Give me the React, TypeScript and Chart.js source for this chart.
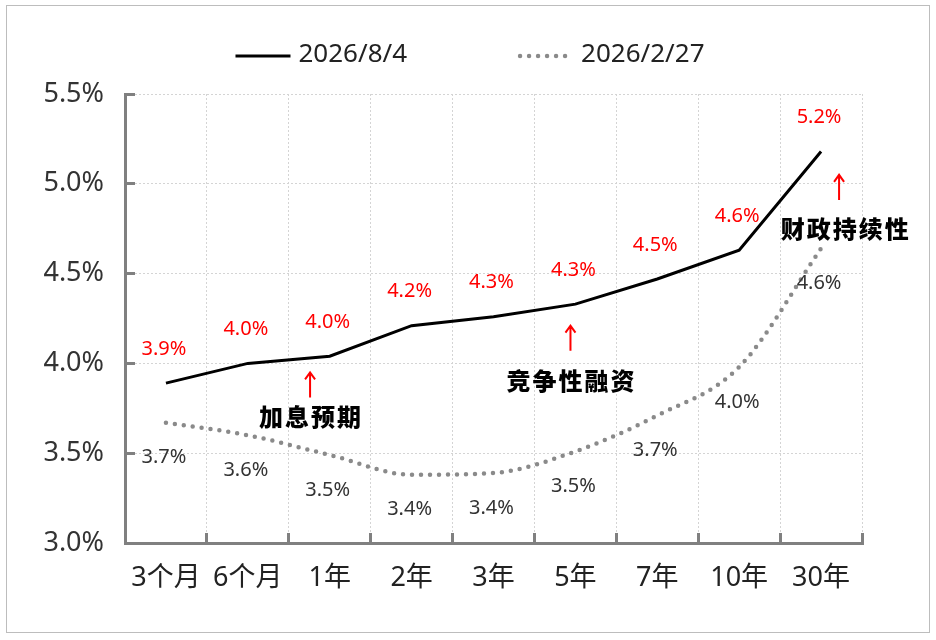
import { useEffect, useRef } from 'react';
import { Chart, ChartConfiguration, Plugin, registerables } from 'chart.js';

Chart.register(...registerables);

// tenors on the x axis
const tenors = ['3个月', '6个月', '1年', '2年', '3年', '5年', '7年', '10年', '30年'];
const seriesNames = ['2026/8/4', '2026/2/27'];
// yields in %
const yieldsAug = [3.89, 4.0, 4.04, 4.21, 4.26, 4.33, 4.47, 4.63, 5.18];
const yieldsFeb = [3.67, 3.6, 3.49, 3.38, 3.39, 3.51, 3.71, 3.98, 4.64];
const yTicks = [3.0, 3.5, 4.0, 4.5, 5.0, 5.5];

// annotations (x in category units, y in %)
const notes = ['加息预期', '竞争性融资', '财政持续性'];
const noteArrowX = [1.76, 4.94, 8.22];
const noteArrowTop = [3.95, 4.21, 5.05];
const noteArrowBottom = [3.81, 4.07, 4.91];
const noteTextX = [1.76, 4.94, 8.29];
const noteTextY = [3.7, 3.9, 4.75];

const valueLabels: Plugin<'line'> = {
  id: 'valueLabels',
  afterDatasetsDraw(chart) {
    const ctx = chart.ctx;
    ctx.save();
    ctx.font = '20px "Noto Sans"';
    ctx.textAlign = 'center';
    ctx.textBaseline = 'middle';
    chart.data.datasets.forEach((ds, i) => {
      const meta = chart.getDatasetMeta(i);
      const above = i === 0;
      ctx.fillStyle = above ? '#ff0000' : '#333333';
      meta.data.forEach((pt, j) => {
        const v = ds.data[j] as number;
        ctx.fillText(v.toFixed(1) + '%', pt.x - 2, above ? pt.y - 34 : pt.y + 35);
      });
    });
    ctx.restore();
  },
};

const noteLayer: Plugin<'line'> = {
  id: 'noteLayer',
  afterDatasetsDraw(chart) {
    const { ctx } = chart;
    const x = chart.scales.x;
    const y = chart.scales.y;
    ctx.save();
    notes.forEach((text, i) => {
      const ax = x.getPixelForValue(noteArrowX[i]);
      const top = y.getPixelForValue(noteArrowTop[i]);
      const bot = y.getPixelForValue(noteArrowBottom[i]);
      ctx.strokeStyle = '#ff0000';
      ctx.lineWidth = 2;
      ctx.beginPath();
      ctx.moveTo(ax, bot);
      ctx.lineTo(ax, top + 1);
      ctx.moveTo(ax - 5, top + 7);
      ctx.lineTo(ax, top);
      ctx.lineTo(ax + 5, top + 7);
      ctx.stroke();

      ctx.fillStyle = '#000000';
      ctx.font = '900 24px "Noto Sans CJK SC"';
      (ctx as any).letterSpacing = '2px';
      ctx.textAlign = 'center';
      ctx.textBaseline = 'middle';
      ctx.fillText(text, x.getPixelForValue(noteTextX[i]) + 1, y.getPixelForValue(noteTextY[i]));
    });
    ctx.restore();
  },
};

// legend drawn as line samples above the plot
const lineLegend: Plugin<'line'> = {
  id: 'lineLegend',
  afterDraw(chart) {
    const ctx = chart.ctx;
    const sample = 55;
    const gap = 8;
    const between = 111;
    const cy = 55;
    ctx.save();
    ctx.font = '26px "Noto Sans"';
    const datasets = chart.data.datasets as any[];
    const widths = datasets.map((ds) => sample + gap + ctx.measureText(ds.label).width);
    const total = widths.reduce((a, b) => a + b, 0) + between * (widths.length - 1);
    let x = 470 - total / 2;
    datasets.forEach((ds, i) => {
      ctx.beginPath();
      ctx.setLineDash(ds.borderDash || []);
      ctx.lineCap = ds.borderCapStyle || 'butt';
      ctx.strokeStyle = ds.borderColor;
      ctx.lineWidth = ds.borderWidth;
      ctx.moveTo(x + (ds.borderDash ? 2 : 0), cy + 1);
      ctx.lineTo(x + sample - (ds.borderDash ? 5 : 0), cy + 1);
      ctx.stroke();
      ctx.setLineDash([]);
      ctx.fillStyle = '#222222';
      ctx.textAlign = 'left';
      ctx.textBaseline = 'middle';
      ctx.fillText(ds.label, x + sample + gap, cy);
      x += widths[i] + between;
    });
    ctx.restore();
  },
};

export default function App() {
  const chartRef = useRef<HTMLCanvasElement>(null);
  const chartInstanceRef = useRef<Chart | null>(null);

  useEffect(() => {
    if (!chartRef.current) return;
    if (chartInstanceRef.current) {
      chartInstanceRef.current.destroy();
    }
    const ctx = chartRef.current.getContext('2d');
    if (!ctx) return;

    const config: ChartConfiguration<'line'> = {
      type: 'line',
      data: {
        labels: tenors,
        datasets: [
          {
            label: seriesNames[0],
            data: yieldsAug,
            borderColor: '#000000',
            borderWidth: 3,
            pointRadius: 0,
            tension: 0,
          },
          {
            label: seriesNames[1],
            data: yieldsFeb,
            borderColor: '#8a8a8a',
            borderWidth: 4.5,
            borderDash: [0, 9],
            borderCapStyle: 'round',
            pointRadius: 0,
            cubicInterpolationMode: 'monotone',
          },
        ],
      },
      options: {
        responsive: true,
        maintainAspectRatio: false,
        animation: false,
        layout: { padding: { top: 94, right: 74, left: 0, bottom: 0 } },
        plugins: {
          legend: { display: false },
          tooltip: { enabled: false },
        },
        scales: {
          x: {
            offset: true,
            grid: {
              offset: true,
              color: '#d4d4d4',
              lineWidth: 1,
              tickLength: -10,
              tickColor: '#808080',
              tickWidth: 3,
            },
            border: { color: '#808080', width: 3, dash: [2, 2] },
            ticks: {
              font: { family: '"Noto Sans", "Noto Sans CJK SC"', size: 27 },
              color: '#222222',
              padding: 29,
              maxRotation: 0,
              autoSkip: false,
            },
            afterFit: (s) => {
              s.height = 97;
            },
          },
          y: {
            min: 3,
            max: 5.5,
            afterBuildTicks: (s) => {
              s.ticks = yTicks.map((v) => ({ value: v }));
            },
            grid: {
              color: '#d4d4d4',
              lineWidth: 1,
              tickLength: -10,
              tickColor: '#808080',
              tickWidth: 3,
            },
            border: { color: '#808080', width: 3, dash: [2, 2] },
            ticks: {
              callback: (v) => Number(v).toFixed(1) + '%',
              font: { family: '"Noto Sans"', size: 27 },
              color: '#333333',
              padding: 31,
            },
            afterFit: (s) => {
              s.width = 125;
            },
          },
        },
      },
      plugins: [valueLabels, noteLayer, lineLegend],
    };

    chartInstanceRef.current = new Chart(ctx, config);

    return () => {
      if (chartInstanceRef.current) {
        chartInstanceRef.current.destroy();
        chartInstanceRef.current = null;
      }
    };
  }, []);

  return (
    <>
      <div
        style={{
          position: 'absolute',
          left: 6,
          top: 5,
          width: 924,
          height: 628,
          border: '1.5px solid #bdbdbd',
          boxSizing: 'border-box',
        }}
      />
      <div style={{ position: 'absolute', left: 0, top: 0, width: 936, height: 640 }}>
        <canvas ref={chartRef} />
      </div>
    </>
  );
}
